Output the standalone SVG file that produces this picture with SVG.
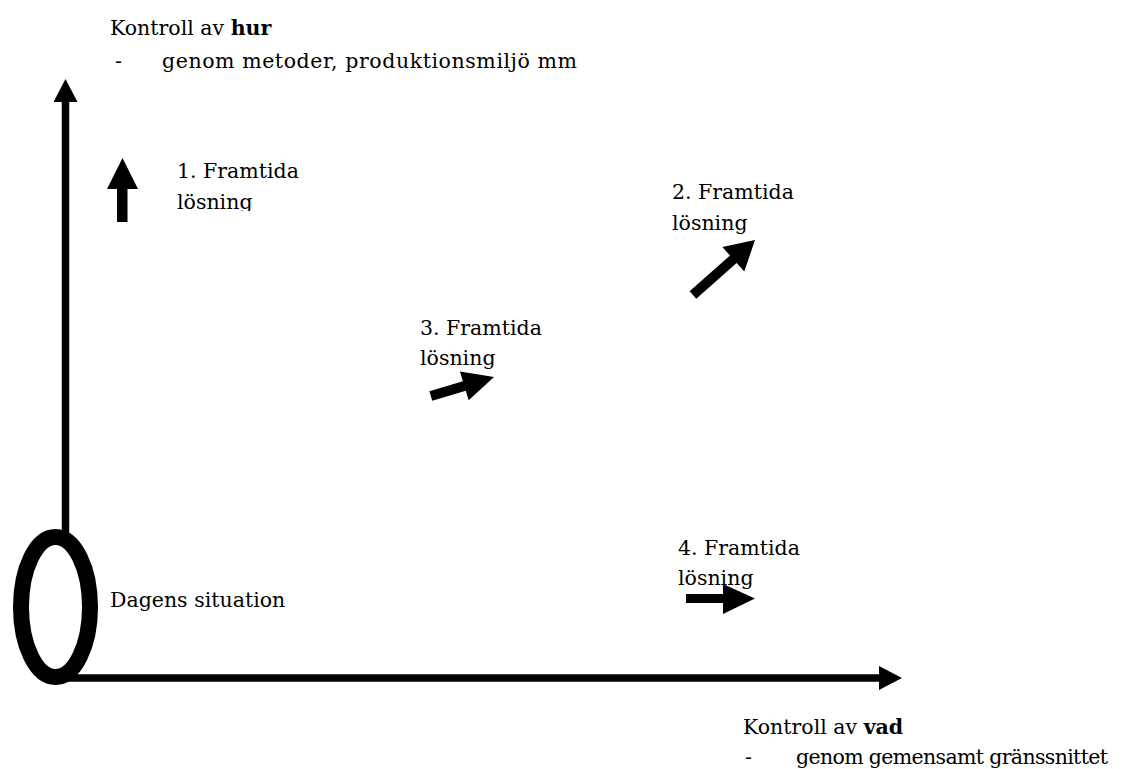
<svg xmlns="http://www.w3.org/2000/svg" width="1131" height="769" viewBox="0 0 1131 769">
<defs>
<style>
text{font-family:"DejaVu Serif","Liberation Serif",serif;font-size:20.5px;fill:#000}
.b{font-weight:bold}
.axis{stroke:#000;stroke-width:7.5;fill:none}
.arr{fill:#000}
</style>
<marker id="head" viewBox="0 0 23 24" markerUnits="userSpaceOnUse" markerWidth="23" markerHeight="24" refX="0" refY="12" orient="auto">
<path d="M0,0 L23,12 L0,24 Z" fill="#000"/>
</marker>
<clipPath id="clip1"><rect x="170" y="150" width="200" height="61"/></clipPath>
</defs>
<rect width="1131" height="769" fill="#fff"/>
<g id="connectors">
<line class="axis" x1="65.5" y1="545" x2="65.5" y2="102" marker-end="url(#head)"/>
<line class="axis" x1="67" y1="678" x2="879" y2="678" marker-end="url(#head)"/>
</g>
<g id="dagens">
<ellipse cx="55.5" cy="607" rx="34.5" ry="70" fill="none" stroke="#000" stroke-width="16"/>
<text x="110" y="607">Dagens situation</text>
</g>
<g id="yaxis-label">
<text x="110" y="35">Kontroll av <tspan class="b">hur</tspan></text>
<text x="115" y="68">-</text>
<text x="162" y="68" textLength="415">genom metoder, produktionsmiljö mm</text>
</g>
<g id="xaxis-label">
<text x="743" y="734">Kontroll av <tspan class="b">vad</tspan></text>
<text x="745" y="764">-</text>
<text x="796" y="764" textLength="312">genom gemensamt gränssnittet</text>
</g>
<g id="losning1">
<polygon class="arr" points="117,222 117,189 107,189 122.5,158 138,189 127.5,189 127.5,222"/>
<g clip-path="url(#clip1)">
<text x="177" y="178">1. Framtida</text>
<text x="177" y="209">lösning</text>
</g>
</g>
<g id="losning2">
<text x="672" y="199">2. Framtida</text>
<text x="672" y="230">lösning</text>
<polygon class="arr" transform="translate(755,240) rotate(-41.6)" points="-83,-5 -29,-5 -29,-16.5 0,0 -29,16.5 -29,5 -83,5"/>
</g>
<g id="losning3">
<text x="420" y="335">3. Framtida</text>
<text x="420" y="365">lösning</text>
<polygon class="arr" transform="translate(494,377) rotate(-16.8)" points="-66,-5 -31,-5 -31,-15 0,0 -31,15 -31,5 -66,5"/>
</g>
<g id="losning4">
<text x="678" y="555">4. Framtida</text>
<text x="678" y="585">lösning</text>
<polygon class="arr" points="686,594 723,594 723,584 755,598.5 723,614 723,603 686,603"/>
</g>
</svg>
